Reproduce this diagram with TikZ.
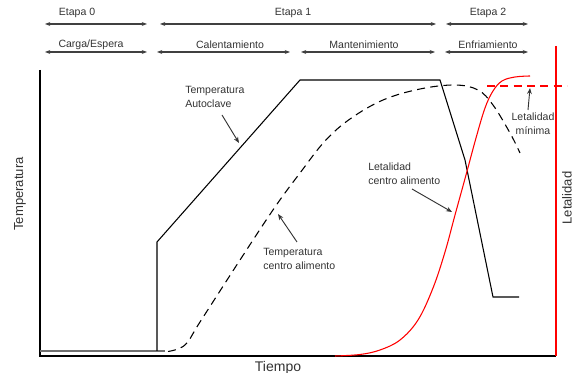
\documentclass[tikz,border=0pt]{standalone}
\usepackage{fontspec}
\setmainfont{Liberation Sans}
\usetikzlibrary{arrows.meta}
\definecolor{ink}{HTML}{333333}
\definecolor{hdr}{HTML}{404040}
\definecolor{baseg}{HTML}{707070}
\definecolor{letred}{HTML}{FF0000}
\begin{document}
\begin{tikzpicture}[x=0.75pt,y=-0.75pt,
  lbl/.style={font=\fontsize{7.9}{10.5}\selectfont, text=ink, inner sep=0pt},
  axlbl/.style={font=\fontsize{9.8}{12}\selectfont, text=ink, inner sep=0pt},
  span/.style={draw=hdr, line width=1pt,
    {Stealth[length=4pt,width=3pt]}-{Stealth[length=4pt,width=3pt]}},
  pointer/.style={draw=ink, line width=0.7pt, -{Stealth[length=4.5pt,width=3.5pt]}},
  curve/.style={line width=0.8pt},
  dashline/.style={line width=0.8pt, dash pattern=on 6pt off 4pt},
]
\useasboundingbox (0,0) rectangle (578,373);

% ---- phase header: stages ----
\coordinate (s0a) at (45,24);  \coordinate (s0b) at (147,24);
\coordinate (s1a) at (160,24); \coordinate (s1b) at (436,24);
\coordinate (s2a) at (446,24); \coordinate (s2b) at (528,24);
\draw[span] (s0a) -- (s0b);
\draw[span] (s1a) -- (s1b);
\draw[span] (s2a) -- (s2b);
\node[lbl] (e0) at (77,13)  {Etapa 0};
\node[lbl] (e1) at (293,13) {Etapa 1};
\node[lbl] (e2) at (488,13) {Etapa 2};

% ---- phase header: operations ----
\coordinate (p0a) at (45,52);  \coordinate (p0b) at (147,52);
\coordinate (p1a) at (157,52); \coordinate (p1b) at (290,52);
\coordinate (p2a) at (301,52); \coordinate (p2b) at (435,52);
\coordinate (p3a) at (445,52); \coordinate (p3b) at (528,52);
\draw[span] (p0a) -- (p0b);
\draw[span] (p1a) -- (p1b);
\draw[span] (p2a) -- (p2b);
\draw[span] (p3a) -- (p3b);
\node[lbl] (o0) at (91,45)  {Carga/Espera};
\node[lbl] (o1) at (230,45) {Calentamiento};
\node[lbl] (o2) at (364,45) {Mantenimiento};
\node[lbl] (o3) at (488,45) {Enfriamiento};

% ---- axes ----
\coordinate (ytop) at (40,70);
\coordinate (orig) at (40,356);
\coordinate (xend) at (556,356);
\coordinate (rtop) at (556,46);
\draw[line width=0.8pt] (ytop) -- (orig) -- (xend);
\draw[letred, line width=0.9pt] (rtop) -- (xend);
\node[axlbl, rotate=90] (ylab) at (20,194) {Temperatura};
\node[axlbl, rotate=90] (rlab) at (567,198) {Letalidad};
\node[axlbl, anchor=base, font=\fontsize{10.5}{12}\selectfont] (xlab) at (278,372) {Tiempo};

% ---- initial temperature baseline ----
\coordinate (b0) at (40,351);
\coordinate (b1) at (165,351);
\draw[baseg, line width=1.2pt] (b0) -- (b1);

% ---- autoclave temperature ----
\draw[curve] (157,351) -- (157,242) -- (300,80) -- (440,80)
  -- (465,160) -- (493,297) -- (519,297);

% ---- food core temperature ----
\draw[dashline] plot[smooth, tension=0.6] coordinates {
  (168,351.5) (185,345) (200,322) (240,260) (275,207) (300,173)
  (325,141) (350,119) (383,100) (420,89) (455,85) (478,90)
  (493,105) (510,133) (520,153)};

% ---- food core lethality ----
\draw[letred, curve] plot[smooth, tension=0.6] coordinates {
  (335,356) (360,354.5) (380,350) (400,340) (418,320) (433,288)
  (445,252) (455,215) (466,175) (476,138) (485,108) (493,91)
  (502,81) (515,77) (530,76)};

% ---- minimum lethality ----
\coordinate (m0) at (487,86);
\coordinate (m1) at (567,86);
\draw[letred, line width=0.8pt, dash pattern=on 6pt off 4pt] (m0) -- (m1);

% ---- labels with pointers ----
\node[lbl, align=left, anchor=north west] (tA) at (185,86) {Temperatura\\Autoclave};
\coordinate (tAs) at (222,115); \coordinate (tAe) at (239,143);
\draw[pointer] (tAs) -- (tAe);

\node[lbl, align=left, anchor=north west] (tC) at (263,248) {Temperatura\\centro alimento};
\coordinate (tCs) at (297,242); \coordinate (tCe) at (278,214);
\draw[pointer] (tCs) -- (tCe);

\node[lbl, align=left, anchor=north west] (lC) at (368,163) {Letalidad\\centro alimento};
\coordinate (lCs) at (412,189); \coordinate (lCe) at (452,212);
\draw[pointer] (lCs) -- (lCe);

\node[lbl, align=center, anchor=north] (lM) at (533,113) {Letalidad\\mínima};
\coordinate (lMs) at (528,110); \coordinate (lMe) at (530,88);
\draw[pointer] (lMs) -- (lMe);
\end{tikzpicture}
\end{document}
